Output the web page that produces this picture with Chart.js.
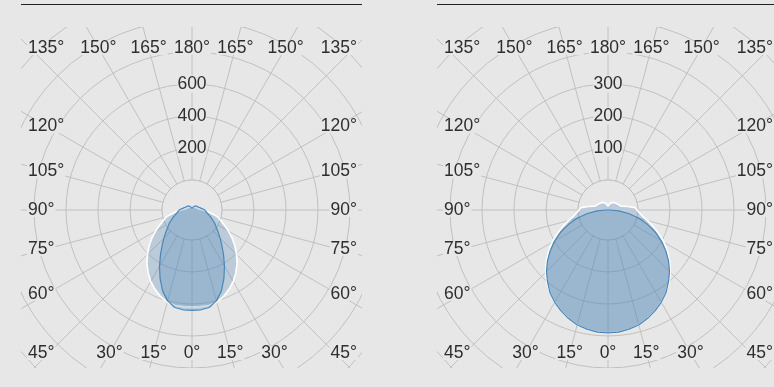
<!DOCTYPE html>
<html>
<head>
<meta charset="utf-8">
<script src="https://cdn.jsdelivr.net/npm/chart.js@4.4.0/dist/chart.umd.min.js"></script>
<style>
  html, body { margin: 0; padding: 0; background: #e6e7e6; overflow: hidden; }
  body { width: 774px; height: 387px; position: relative; }
  .panel { position: absolute; top: 0; width: 341px; height: 368px; }
  .rule { position: absolute; top: 4px; left: 0; width: 341px; height: 0; border-top: 1px solid #222; }
  .panel canvas { position: absolute; top: 27px; left: 0; }
</style>
</head>
<body>
<div class="panel" style="left:21px"><div class="rule"></div><canvas id="leftChart" width="341" height="341"></canvas></div>
<div class="panel" style="left:437px"><div class="rule"></div><canvas id="rightChart" width="341" height="341"></canvas></div>

<script>
/* Light distribution diagrams (gamma 0° = straight down) */

// gamma angles of the measured points
const gammaAngles = [0, 5, 10, 15, 20, 25, 30, 35, 40, 45, 50, 55, 60, 65, 70, 75, 80, 85, 90,
    95, 100, 105, 110, 115, 120, 125, 130, 135, 140, 145, 150, 155, 160, 165, 170, 175, 180];

// left diagram
const leftNarrow = [627, 626, 619, 588, 538, 472, 406, 344, 291, 248, 213, 184, 163, 141, 122, 106, 94, 86, 81,
    69, 59, 53, 47, 44, 41, 39, 38, 34, 31, 28, 25, 22, 19, 16, 13, 11, 9];
const leftWide = [606, 606, 606, 597, 575, 547, 516, 478, 438, 394, 350, 306, 263, 222, 191, 166, 125, 94, 69,
    50, 41, 38, 34, 31, 31, 28, 28, 25, 25, 22, 22, 19, 19, 16, 13, 9, 9];
const leftRings = [0, 187.5, 387.5, 587.5, 787.5, 987.5, 1187.5, 1387.5, 1587.5];
const leftRingLabels = ['', '', '200', '400', '600', '', '', '', ''];
const leftMax = 1625;

// right diagram
const rightCircle = [384, 383, 378, 372, 361, 348, 333, 316, 294, 272, 247, 220, 192, 163, 131, 100, 67, 34, 6,
    0, 0, 0, 0, 0, 0, 0, 0, 0, 0, 0, 0, 0, 0, 0, 0, 0, 0];
const rightWide = [384, 383, 378, 372, 361, 348, 333, 316, 297, 275, 252, 227, 202, 175, 150, 128, 109, 98, 91,
    84, 63, 47, 39, 38, 36, 34, 33, 31, 30, 28, 27, 25, 22, 19, 16, 14, 13];
const rightRings = [0, 93.75, 193.75, 293.75, 393.75, 493.75, 593.75, 693.75, 793.75];
const rightRingLabels = ['', '', '100', '200', '300', '', '', '', ''];
const rightMax = 812.5;

const BG = '#e6e7e6';
const GRID = '#c0c0c0';
const TEXT = '#2e2e2e';
const FILL = 'rgba(70, 130, 180, 0.27)';
const FONT_FAMILY = '"Helvetica Neue", Helvetica, Arial, "Liberation Sans", sans-serif';
const FONT_SIZE = 17.5;

// radar goes clockwise from the top: 180° down the right side to 0°, then back up the left side
function aroundTheClock(values) {
    let out = [];
    for (let i = values.length - 1; i >= 0; i--) out.push(values[i]);
    for (let i = 1; i < values.length - 1; i++) out.push(values[i]);
    return out;
}

const spokeLabels = aroundTheClock(gammaAngles).map(g => g + '°');

const diagramPlugin = {
    id: 'diagramPlugin',
    beforeDatasetsDraw(chart) {
        // empty disc in the middle, spokes start at its edge
        let s = chart.scales.r;
        let ctx = chart.ctx;
        let r = s.getDistanceFromCenterForValue(s.ticks[1].value);
        ctx.save();
        ctx.beginPath();
        ctx.arc(s.xCenter, s.yCenter, r, 0, Math.PI * 2);
        ctx.fillStyle = BG;
        ctx.fill();
        ctx.strokeStyle = GRID;
        ctx.lineWidth = 1;
        ctx.stroke();
        ctx.restore();
    },
    afterDraw(chart) {
        // angle labels along the frame
        let s = chart.scales.r;
        let ctx = chart.ctx;
        let w = chart.width, h = chart.height;
        let topY = 21, bottomY = h - 15;
        ctx.save();
        ctx.font = FONT_SIZE + 'px ' + FONT_FAMILY;
        ctx.textBaseline = 'middle';
        chart.data.labels.forEach((label, i) => {
            if (i % 3 !== 0) return;
            let p = s.getPointPosition(i, 100);
            let dx = (p.x - s.xCenter) / 100;
            let dy = (p.y - s.yCenter) / 100;
            let x, y, align;
            if (Math.abs(dy) > 0.766) {
                y = dy < 0 ? topY : bottomY;
                x = s.xCenter + (y - s.yCenter) * dx / dy;
                align = 'center';
            } else {
                align = dx < 0 ? 'left' : 'right';
                x = dx < 0 ? 7 : w - 5;
                if (Math.abs(dy) > 0.7) {
                    // corners sit on the top and bottom rows
                    y = dy < 0 ? topY : bottomY;
                } else {
                    y = s.yCenter + dy * 145 / Math.abs(dx);
                }
            }
            let tw = ctx.measureText(label).width;
            let left = align === 'center' ? x - tw / 2 : (align === 'left' ? x : x - tw);
            ctx.fillStyle = BG;
            ctx.fillRect(left - 1, y - 7, tw + 2, 14);
            ctx.fillStyle = TEXT;
            ctx.textAlign = align;
            ctx.fillText(label, x, y);
        });
        ctx.restore();
    }
};

function drawDiagram(canvasId, narrow, wide, rings, ringLabels, maxValue) {
    let ctx = document.getElementById(canvasId).getContext('2d');
    let firstLabel = ringLabels.findIndex(l => l !== '');

    let graphic = new Chart(ctx, {
        type: 'radar',
        data: {
            labels: spokeLabels,
            datasets: [
                {
                    label: 'C0-C180',
                    data: aroundTheClock(narrow),
                    borderColor: '#4a86b8',
                    borderWidth: 1.2,
                    borderJoinStyle: 'round',
                    backgroundColor: FILL,
                    fill: true,
                    pointRadius: 0,
                    tension: 0
                },
                {
                    label: 'C90-C270',
                    data: aroundTheClock(wide),
                    borderColor: '#ffffff',
                    borderWidth: 1.6,
                    borderJoinStyle: 'round',
                    backgroundColor: FILL,
                    fill: true,
                    pointRadius: 0,
                    tension: 0
                }
            ]
        },
        options: {
            responsive: false,
            animation: false,
            events: [],
            layout: { padding: 0 },
            plugins: {
                legend: { display: false },
                tooltip: { enabled: false }
            },
            scales: {
                r: {
                    min: 0,
                    max: maxValue,
                    afterBuildTicks: function (scale) {
                        scale.ticks = rings.map(v => ({ value: v }));
                    },
                    afterFit: function (scale) {
                        scale.xCenter = 171;
                        scale.yCenter = 183;
                        scale.drawingArea = 260;
                    },
                    grid: { circular: true, color: GRID, lineWidth: 1 },
                    angleLines: {
                        color: c => (c.index % 3 === 0 ? GRID : 'transparent'),
                        lineWidth: 1
                    },
                    pointLabels: { display: false },
                    ticks: {
                        callback: (value, index) => ringLabels[index],
                        font: { family: FONT_FAMILY, size: FONT_SIZE },
                        color: TEXT,
                        showLabelBackdrop: c => !!(c.tick && c.tick.label),
                        backdropColor: BG,
                        backdropPadding: c => ({
                            top: 0,
                            bottom: c.index === firstLabel ? 25 : 13,
                            left: -11,
                            right: -11
                        })
                    }
                }
            }
        },
        plugins: [diagramPlugin]
    });
}

drawDiagram('leftChart', leftNarrow, leftWide, leftRings, leftRingLabels, leftMax);
drawDiagram('rightChart', rightCircle, rightWide, rightRings, rightRingLabels, rightMax);
</script>
</body>
</html>
